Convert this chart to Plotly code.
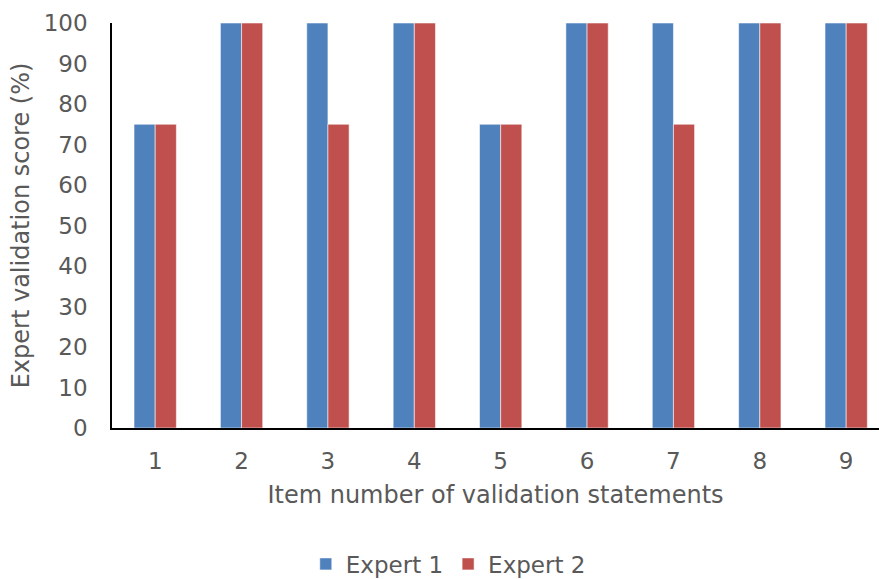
import plotly.graph_objects as go

items = ["1", "2", "3", "4", "5", "6", "7", "8", "9"]
expert1 = [75, 100, 100, 100, 75, 100, 100, 100, 100]
expert2 = [75, 100, 75, 100, 75, 100, 75, 100, 100]
y_ticks = [0, 10, 20, 30, 40, 50, 60, 70, 80, 90, 100]

text_color = "#595959"
font_family = "DejaVu Sans, Verdana, sans-serif"

fig = go.Figure()
fig.add_trace(go.Bar(
    x=items, y=expert1, name="Expert 1",
    marker=dict(color="#4F81BD", line=dict(color="rgba(255,255,255,0.55)", width=1)),
))
fig.add_trace(go.Bar(
    x=items, y=expert2, name="Expert 2",
    marker=dict(color="#C0504D", line=dict(color="rgba(255,255,255,0.55)", width=1)),
))

fig.update_layout(
    width=879, height=579,
    margin=dict(l=112, r=0, t=23, b=151, autoexpand=False),
    paper_bgcolor="white", plot_bgcolor="white",
    barmode="group", bargap=0.51, bargroupgap=0,
    font=dict(family=font_family, size=23, color=text_color),
    showlegend=True,
    legend=dict(
        orientation="h", xref="container", yref="container",
        x=0.51, xanchor="center", y=0.026, yanchor="middle",
        font=dict(size=23, color=text_color), itemwidth=30, traceorder="normal",
    ),
    xaxis=dict(
        type="category", range=[-0.5, 8.38],
        showline=True, linecolor="black", linewidth=1.5,
        showgrid=False, zeroline=False,
        ticks="outside", ticklen=12, tickcolor="rgba(0,0,0,0)",
        tickfont=dict(size=23, color=text_color),
        title=dict(text="Item number of validation statements",
                   font=dict(size=24, color=text_color), standoff=13),
    ),
    yaxis=dict(
        range=[0, 100], tickvals=y_ticks,
        showline=True, linecolor="black", linewidth=1.5,
        showgrid=False, zeroline=False,
        ticks="outside", ticklen=18, tickcolor="rgba(0,0,0,0)",
        tickfont=dict(size=23, color=text_color),
        title=dict(text="Expert validation score (%)",
                   font=dict(size=24, color=text_color), standoff=7),
    ),
)

fig.write_html("out.html")
